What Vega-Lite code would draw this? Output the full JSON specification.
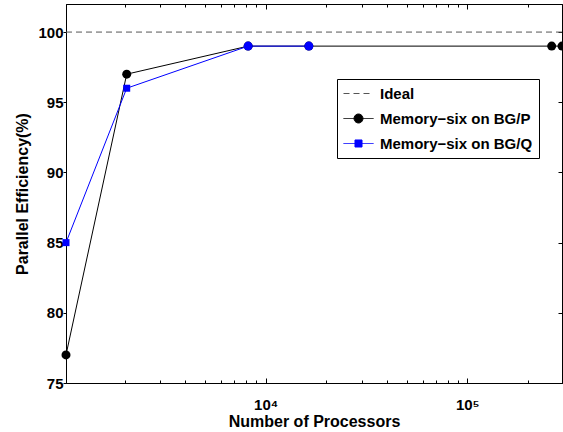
{
  "$schema": "https://vega.github.io/schema/vega-lite/v6.json",
  "width": 496,
  "height": 379,
  "autosize": {"type": "none"},
  "padding": {"left": 66, "top": 4, "right": 1, "bottom": 49},
  "background": "white",
  "config": {
    "view": {"stroke": "black", "strokeWidth": 1},
    "font": "Liberation Sans",
    "axis": {
      "domainColor": "black", "tickColor": "black", "labelColor": "black", "titleColor": "black",
      "labelFont": "Liberation Sans", "titleFont": "Liberation Sans",
      "labelFontWeight": "bold", "titleFontWeight": "bold", "grid": false,
      "labelFontSize": 15, "titleFontSize": 16, "tickWidth": 1, "domainWidth": 1
    }
  },
  "datasets": {
    "lines": [
      {"n": 1024, "eff": 77, "series": "Memory−six on BG/P"},
      {"n": 2048, "eff": 97, "series": "Memory−six on BG/P"},
      {"n": 8192, "eff": 99, "series": "Memory−six on BG/P"},
      {"n": 16384, "eff": 99, "series": "Memory−six on BG/P"},
      {"n": 262144, "eff": 99, "series": "Memory−six on BG/P"},
      {"n": 294912, "eff": 99, "series": "Memory−six on BG/P"},
      {"n": 1024, "eff": 85, "series": "Memory−six on BG/Q"},
      {"n": 2048, "eff": 96, "series": "Memory−six on BG/Q"},
      {"n": 8192, "eff": 99, "series": "Memory−six on BG/Q"},
      {"n": 16384, "eff": 99, "series": "Memory−six on BG/Q"}
    ],
    "ideal": [{"eff": 100, "series": "Ideal"}]
  },
  "layer": [
    {
      "data": {"name": "ideal"},
      "mark": {"type": "rule", "color": "#555555", "strokeDash": [6, 4], "strokeWidth": 1},
      "encoding": {
        "y": {"field": "eff", "type": "quantitative", "scale": {"domain": [75, 102]}, "axis": null}
      }
    },
    {
      "data": {"name": "lines"},
      "mark": {"type": "line", "strokeWidth": 1},
      "encoding": {
        "x": {
          "field": "n", "type": "quantitative",
          "scale": {"type": "log", "domain": [1024, 294912], "nice": false},
          "axis": {
            "orient": "bottom", "title": "Number of Processors",
            "values": [2000,3000,4000,5000,6000,7000,8000,9000,10000,20000,30000,40000,50000,60000,70000,80000,90000,100000,200000],
            "labelExpr": "datum.value == 10000 ? '10⁴' : datum.value == 100000 ? '10⁵' : ''",
            "labelOverlap": false,
            "tickSize": {"condition": {"test": "datum.value == 10000 || datum.value == 100000", "value": -5}, "value": -3},
            "labelPadding": 19, "titlePadding": -1
          }
        },
        "y": {
          "field": "eff", "type": "quantitative",
          "scale": {"domain": [75, 102], "nice": false, "zero": false},
          "axis": {
            "orient": "left", "title": "Parallel Efficiency(%)",
            "values": [75, 80, 85, 90, 95, 100],
            "tickSize": 3, "labelPadding": 0, "titlePadding": 7
          }
        },
        "stroke": {
          "field": "series", "type": "nominal",
          "scale": {"domain": ["Ideal", "Memory−six on BG/P", "Memory−six on BG/Q"], "range": ["#555555", "black", "blue"]}
        }
      }
    },
    {
      "data": {"name": "lines"},
      "transform": [{"filter": "datum.series == 'Memory−six on BG/P'"}],
      "mark": {"type": "point", "filled": true, "shape": "circle", "size": 81, "color": "black", "opacity": 1},
      "encoding": {
        "x": {"field": "n", "type": "quantitative", "axis": null},
        "y": {"field": "eff", "type": "quantitative", "axis": null}
      }
    },
    {
      "data": {"name": "lines"},
      "transform": [{"filter": "datum.series == 'Memory−six on BG/Q'"}],
      "mark": {"type": "point", "filled": true, "color": "blue", "opacity": 1},
      "encoding": {
        "x": {"field": "n", "type": "quantitative", "axis": null},
        "y": {"field": "eff", "type": "quantitative", "axis": null},
        "shape": {"condition": {"test": "datum.eff >= 99", "value": "circle"}, "value": "square"},
        "size": {"condition": {"test": "datum.eff >= 99", "value": 81}, "value": 49}
      }
    },
    {
      "data": {"name": "lines"},
      "transform": [{"filter": "false"}],
      "mark": {"type": "point", "filled": true, "opacity": 1},
      "encoding": {
        "x": {
          "field": "n", "type": "quantitative",
          "axis": {
            "orient": "top", "title": null, "labels": false,
            "values": [2000,3000,4000,5000,6000,7000,8000,9000,10000,20000,30000,40000,50000,60000,70000,80000,90000,100000,200000],
            "tickSize": {"condition": {"test": "datum.value == 10000 || datum.value == 100000", "value": -5}, "value": -3}
          }
        },
        "y": {
          "field": "eff", "type": "quantitative",
          "axis": {"orient": "right", "title": null, "labels": false, "values": [75, 80, 85, 90, 95, 100], "tickSize": -4}
        },
        "shape": {
          "field": "series", "type": "nominal",
          "scale": {
            "domain": ["Ideal", "Memory−six on BG/P", "Memory−six on BG/Q"],
            "range": [
              "M-1.875,0H1.875",
              "M-1.875,0H1.875M-0.5625,0A0.5625,0.5625 0 1,0 0.5625,0A0.5625,0.5625 0 1,0 -0.5625,0Z",
              "M-1.875,0H1.875M-0.44,-0.44H0.44V0.44H-0.44Z"
            ]
          },
          "legend": {
            "orient": "none", "legendX": 271, "legendY": 75, "title": null,
            "strokeColor": "black", "fillColor": "white", "padding": 6,
            "symbolSize": 256, "symbolStrokeWidth": 1, "symbolOffset": 7, "labelFontSize": 15,
            "labelFont": "Liberation Sans", "labelFontWeight": "bold", "labelColor": "black",
            "labelOffset": 13, "rowPadding": 8, "labelLimit": 300
          }
        },
        "fill": {
          "field": "series", "type": "nominal",
          "scale": {"domain": ["Ideal", "Memory−six on BG/P", "Memory−six on BG/Q"], "range": ["#555555", "black", "blue"]}
        },
        "stroke": {"field": "series", "type": "nominal"},
        "strokeDash": {
          "field": "series", "type": "nominal",
          "scale": {"domain": ["Ideal", "Memory−six on BG/P", "Memory−six on BG/Q"], "range": [[6, 4], [1, 0], [1, 0]]}
        }
      }
    }
  ],
  "resolve": {"axis": {"x": "independent", "y": "independent"}}
}
